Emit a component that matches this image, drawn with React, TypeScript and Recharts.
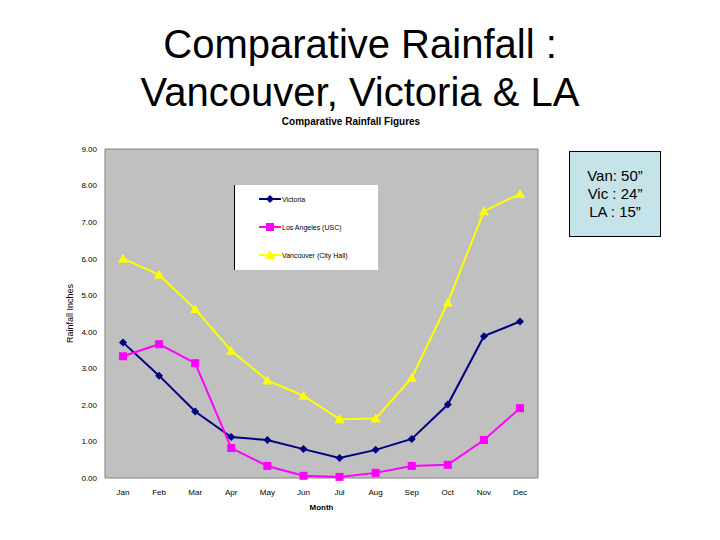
import React from 'react';
import { LineChart, Line, XAxis, YAxis, CartesianGrid } from 'recharts';

const months = ['Jan', 'Feb', 'Mar', 'Apr', 'May', 'Jun', 'Jul', 'Aug', 'Sep', 'Oct', 'Nov', 'Dec'];
const victoria = [3.71, 2.8, 1.82, 1.12, 1.04, 0.79, 0.55, 0.77, 1.07, 2.01, 3.88, 4.28];
const losAngeles = [3.33, 3.66, 3.14, 0.82, 0.33, 0.06, 0.03, 0.14, 0.33, 0.36, 1.04, 1.91];
const vancouver = [6.0, 5.56, 4.62, 3.48, 2.67, 2.25, 1.61, 1.63, 2.74, 4.8, 7.3, 7.77];
const yTicks = [0, 1, 2, 3, 4, 5, 6, 7, 8, 9];

const series = [
  { key: 'vic', name: 'Victoria', color: '#000080', shape: 'diamond' },
  { key: 'la', name: 'Los Angeles (USC)', color: '#ff00ff', shape: 'square' },
  { key: 'van', name: 'Vancouver (City Hall)', color: '#ffff00', shape: 'triangle' },
];

const data = months.map((m, i) => ({
  month: m,
  vic: victoria[i],
  la: losAngeles[i],
  van: vancouver[i],
}));

const FONT = 'Arial, "Liberation Sans", sans-serif';

const Marker = ({ cx, cy, shape, color }: any) => {
  if (cx == null || cy == null) return null;
  if (shape === 'diamond') {
    return <polygon points={`${cx},${cy - 4} ${cx + 4},${cy} ${cx},${cy + 4} ${cx - 4},${cy}`} fill={color} />;
  }
  if (shape === 'square') {
    return <rect x={cx - 4} y={cy - 4} width={8} height={8} fill={color} />;
  }
  return <polygon points={`${cx},${cy - 5} ${cx + 5},${cy + 4} ${cx - 5},${cy + 4}`} fill={color} />;
};

const App = () => {
  return (
    <div style={{ position: 'absolute', left: 0, top: 0, width: 720, height: 540, background: '#fff', fontFamily: FONT }}>
      <div style={{ position: 'absolute', left: 0, top: 20, width: 720, textAlign: 'center', fontSize: 40, lineHeight: '48px', color: '#000' }}>
        Comparative Rainfall :<br />Vancouver, Victoria &amp; LA
      </div>
      <div style={{ position: 'absolute', left: 0, top: 116, width: 702, textAlign: 'center', fontSize: 10, fontWeight: 'bold' }}>
        Comparative Rainfall Figures
      </div>

      <div style={{ position: 'absolute', left: 0, top: 0 }}>
        <LineChart width={720} height={540} data={data} margin={{ top: 149, right: 182, left: 0, bottom: 0 }}>
          <CartesianGrid
            fill="#c0c0c0"
            fillOpacity={1}
            stroke="#808080"
            strokeWidth={1}
            horizontalCoordinatesGenerator={({ offset }: any) => [offset.top, offset.top + offset.height]}
            verticalCoordinatesGenerator={({ offset }: any) => [offset.left, offset.left + offset.width]}
          />
          <XAxis
            dataKey="month"
            height={62}
            padding={{ left: 18, right: 18 }}
            axisLine={false}
            tickLine={false}
            tick={{ fontSize: 8, fill: '#000', fontFamily: FONT }}
            tickMargin={5}
            interval={0}
            label={{ value: 'Month', position: 'insideTop', offset: 26, style: { fontSize: 8, fontWeight: 'bold', fill: '#000', fontFamily: FONT } }}
          />
          <YAxis
            width={105}
            domain={[0, 9]}
            ticks={yTicks}
            interval={0}
            axisLine={false}
            tickLine={false}
            tickFormatter={(v: number) => v.toFixed(2)}
            tick={{ fontSize: 8, fill: '#000', fontFamily: FONT }}
            tickMargin={2}
            label={{ value: 'Rainfall Inches', angle: -90, position: 'insideLeft', offset: 70, style: { fontSize: 9, fill: '#000', fontFamily: FONT, textAnchor: 'middle' } }}
          />
          {series.map((s) => (
            <Line
              key={s.key}
              dataKey={s.key}
              name={s.name}
              stroke={s.color}
              strokeWidth={2}
              isAnimationActive={false}
              dot={(p: any) => <Marker key={`${s.key}-${p.index}`} cx={p.cx} cy={p.cy} shape={s.shape} color={s.color} />}
              activeDot={false}
            />
          ))}
        </LineChart>
      </div>

      <div style={{ position: 'absolute', left: 234, top: 185, width: 144, height: 85, background: '#fff', borderLeft: '1px solid #000', boxSizing: 'border-box' }}>
        {series.map((s, i) => (
          <div key={s.key} style={{ position: 'absolute', left: 24, top: 8 + i * 28, height: 12, display: 'flex', alignItems: 'center' }}>
            <svg width={22} height={12}>
              <line x1={0} y1={6} x2={22} y2={6} stroke={s.color} strokeWidth={2} />
              <Marker cx={11} cy={6} shape={s.shape} color={s.color} />
            </svg>
            <span style={{ fontSize: 7, marginLeft: 1, color: '#000' }}>{s.name}</span>
          </div>
        ))}
      </div>

      <div style={{ position: 'absolute', left: 569, top: 151, width: 92, height: 86, background: '#c6e3ea', border: '1px solid #000', boxSizing: 'border-box', display: 'flex', flexDirection: 'column', justifyContent: 'center', alignItems: 'center', fontSize: 15, lineHeight: '18px', color: '#000' }}>
        <div>Van: 50”</div>
        <div>Vic : 24”</div>
        <div>LA : 15”</div>
      </div>
    </div>
  );
};

export default App;
